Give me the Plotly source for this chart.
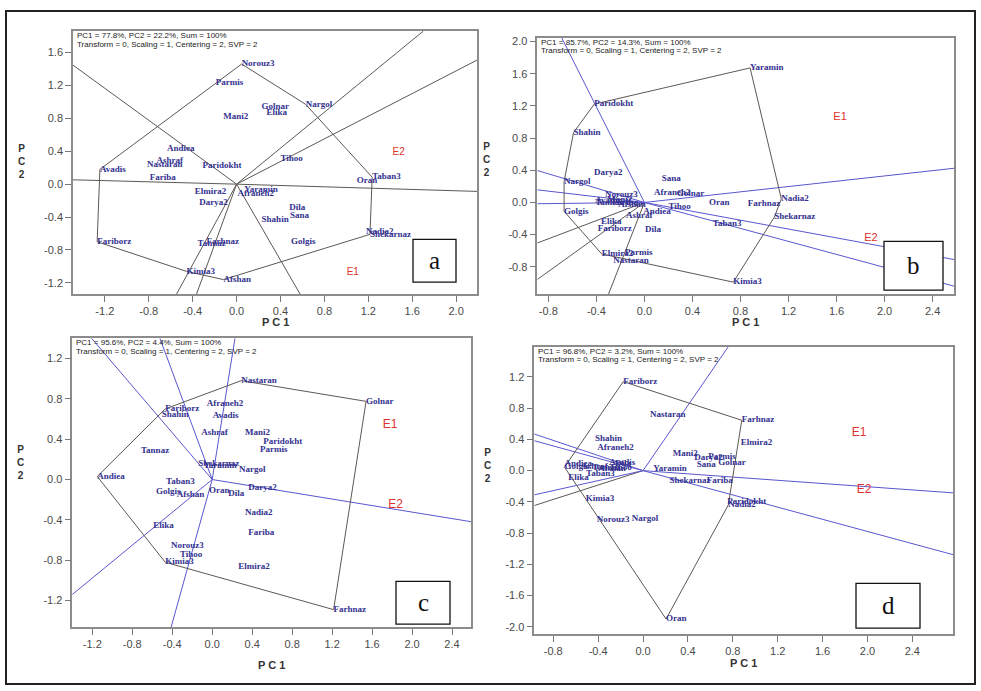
import plotly.graph_objects as go

W, H = 981, 691

# ------------------------------------------------------------------ data
# Panel a
a_names = ["Norouz3", "Parmis", "Golnar", "Elika", "Mani2", "Nargol", "Andiea", "Ashraf",
           "Nastaran", "Avadis", "Fariba", "Paridokht", "Tihoo", "Elmira2", "Darya2",
           "Yaramin", "Afraneh2", "Dila", "Sana", "Shahin", "Fariborz", "Farhnaz", "Tannaz",
           "Golgis", "Kimia3", "Afshan", "Nadia2", "Shekarnaz", "Oran", "Taban3"]
a_x = [0.046, -0.19, 0.228, 0.273, -0.122, 0.63, -0.633, -0.729, -0.815, -1.245, -0.79, -0.31,
       0.40, -0.38, -0.34, 0.069, 0.009, 0.48, 0.486, 0.228, -1.27, -0.273, -0.355, 0.495,
       -0.456, -0.12, 1.18, 1.215, 1.094, 1.235]
a_y = [1.46, 1.236, 0.938, 0.873, 0.817, 0.97, 0.433, 0.283, 0.235, 0.18, 0.081, 0.223, 0.303,
       -0.088, -0.222, -0.068, -0.117, -0.283, -0.39, -0.432, -0.70, -0.70, -0.73, -0.703,
       -1.06, -1.16, -0.573, -0.61, 0.041, 0.085]
a_hull = ["Norouz3", "Nargol", "Taban3", "Shekarnaz", "Afshan", "Kimia3", "Fariborz", "Avadis", "Norouz3"]
a_env = ["E1", "E2"]
a_env_x = [1.003, 1.42]
a_env_y = [-1.07, 0.39]
a_grey_x = [-1.49, -1.49, 2.19, 1.70, 2.19, 0.579, -0.547, -0.365]
a_grey_y = [1.447, 0.053, -0.088, 1.86, 1.508, -1.337, -1.337, -1.337]
a_blue_x = []
a_blue_y = []
a_stats = ["PC1 = 77.8%, PC2 = 22.2%, Sum = 100%", "Transform = 0, Scaling = 1, Centering = 2, SVP = 2"]
a_xticks = [-1.2, -0.8, -0.4, 0.0, 0.4, 0.8, 1.2, 1.6, 2.0]
a_yticks = [-1.2, -0.8, -0.4, 0.0, 0.4, 0.8, 1.2, 1.6]

# Panel b
b_names = ["Yaramin", "Paridokht", "Shahin", "Darya2", "Nargol", "Sana", "Afraneh2", "Golnar",
           "Norouz3", "Avadis", "Tannaz", "Mani2", "Fariba", "Afshan", "Golgis", "Ashraf",
           "Andiea", "Tihoo", "Elika", "Fariborz", "Dila", "Parmis", "Elmira2", "Nastaran",
           "Kimia3", "Oran", "Farhnaz", "Nadia2", "Shekarnaz", "Taban3"]
b_x = [0.88, -0.417, -0.59, -0.42, -0.669, 0.144, 0.08, 0.269, -0.328, -0.41, -0.41, -0.31,
       -0.27, -0.217, -0.669, -0.153, -0.009, 0.2, -0.361, -0.389, 0.005, -0.162, -0.356,
       -0.259, 0.74, 0.538, 0.86, 1.14, 1.082, 0.569]
b_y = [1.673, 1.223, 0.87, 0.372, 0.26, 0.289, 0.115, 0.103, 0.095, 0.021, -0.008, 0.028,
       0.0, -0.03, -0.11, -0.161, -0.112, -0.058, -0.244, -0.326, -0.338, -0.62, -0.64,
       -0.731, -0.991, -0.008, -0.016, 0.045, -0.182, -0.269]
b_hull = ["Yaramin", "Paridokht", "Shahin", "Nargol", "Golgis", "Elmira2", "Kimia3", "Shekarnaz", "Nadia2", "Yaramin"]
b_env = ["E1", "E2"]
b_env_x = [1.573, 1.83]
b_env_y = [1.057, -0.45]
b_grey_x = [-0.892, -0.892, -0.30]
b_grey_y = [-0.504, -0.958, -1.144]
b_blue_x = [-0.689, -0.892, -0.892, -0.892, 2.578, 2.578, 2.578]
b_blue_y = [2.048, 0.397, 0.157, -0.016, 0.425, -0.71, -1.041]
b_stats = ["PC1 = 85.7%, PC2 = 14.3%, Sum = 100%", "Transform = 0, Scaling = 1, Centering = 2, SVP = 2"]
b_xticks = [-0.8, -0.4, 0.0, 0.4, 0.8, 1.2, 1.6, 2.0, 2.4]
b_yticks = [-0.8, -0.4, 0.0, 0.4, 0.8, 1.2, 1.6, 2.0]

# Panel c
c_names = ["Nastaran", "Golnar", "Fariborz", "Shahin", "Afraneh2", "Avadis", "Ashraf", "Mani2",
           "Paridokht", "Parmis", "Tannaz", "Shekarnaz", "Yaramin", "Nargol", "Andiea", "Taban3",
           "Golgis", "Afshan", "Oran", "Dila", "Darya2", "Nadia2", "Fariba", "Elika", "Norouz3",
           "Tihoo", "Kimia3", "Elmira2", "Farhnaz"]
c_x = [0.29, 1.54, -0.47, -0.505, -0.055, 0.005, -0.109, 0.328, 0.512, 0.478, -0.713, -0.139,
       -0.089, 0.268, -1.15, -0.462, -0.563, -0.355, -0.032, 0.161, 0.361, 0.328, 0.361, -0.59,
       -0.412, -0.322, -0.47, 0.261, 1.215]
c_y = [0.98, 0.775, 0.70, 0.647, 0.752, 0.63, 0.459, 0.459, 0.37, 0.30, 0.284, 0.158, 0.136,
       0.10, 0.03, -0.02, -0.126, -0.15, -0.112, -0.138, -0.079, -0.332, -0.524, -0.462, -0.656,
       -0.745, -0.82, -0.864, -1.29]
c_hull = ["Nastaran", "Golnar", "Farhnaz", "Kimia3", "Andiea", "Fariborz", "Nastaran"]
c_env = ["E1", "E2"]
c_env_x = [1.707, 1.763]
c_env_y = [0.538, -0.25]
c_grey_x = []
c_grey_y = []
c_blue_x = [-1.207, -0.523, 0.228, -0.412, 2.59, -1.40]
c_blue_y = [1.40, 1.40, 1.40, -1.467, -0.418, -1.14]
c_stats = ["PC1 = 95.6%, PC2 = 4.4%, Sum = 100%", "Transform = 0, Scaling = 1, Centering = 2, SVP = 2"]
c_xticks = [-1.2, -0.8, -0.4, 0.0, 0.4, 0.8, 1.2, 1.6, 2.0, 2.4]
c_yticks = [-1.2, -0.8, -0.4, 0.0, 0.4, 0.8, 1.2]

# Panel d
d_names = ["Fariborz", "Nastaran", "Farhnaz", "Shahin", "Afraneh2", "Elmira2", "Mani2", "Darya2",
           "Parmis", "Sana", "Golnar", "Andiea", "Avadis", "Dila", "Golgis", "Ashraf", "Tannaz",
           "Afshan", "Tihoo", "Taban3", "Elika", "Yaramin", "Shekarnaz", "Fariba", "Kimia3",
           "Paridokht", "Nadia2", "Norouz3", "Nargol", "Oran"]
d_x = [-0.176, 0.062, 0.88, -0.428, -0.407, 0.871, 0.265, 0.457, 0.582, 0.479, 0.671, -0.70,
       -0.30, -0.25, -0.70, -0.55, -0.45, -0.40, -0.30, -0.508, -0.666, 0.092, 0.235, 0.567,
       -0.511, 0.751, 0.76, -0.413, -0.10, 0.205]
d_y = [1.14, 0.715, 0.645, 0.405, 0.298, 0.354, 0.213, 0.162, 0.179, 0.077, 0.106, 0.093,
       0.10, 0.085, 0.045, 0.045, 0.04, 0.02, 0.04, -0.034, -0.085, 0.03, -0.136, -0.136,
       -0.362, -0.405, -0.44, -0.63, -0.617, -1.90]
d_hull = ["Fariborz", "Farhnaz", "Nadia2", "Oran", "Golgis", "Fariborz"]
d_env = ["E1", "E2"]
d_env_x = [1.86, 1.905]
d_env_y = [0.476, -0.243]
d_grey_x = [-0.969]
d_grey_y = [-0.447]
d_blue_x = [0.76, -0.969, -0.969, -0.969, 2.765, 2.765]
d_blue_y = [1.587, 0.469, 0.383, -0.31, -0.285, -1.077]
d_stats = ["PC1 = 96.8%, PC2 = 3.2%, Sum = 100%", "Transform = 0, Scaling = 1, Centering = 2, SVP = 2"]
d_xticks = [-0.8, -0.4, 0.0, 0.4, 0.8, 1.2, 1.6, 2.0, 2.4]
d_yticks = [-2.0, -1.6, -1.2, -0.8, -0.4, 0.0, 0.4, 0.8, 1.2]

panel_letters = ["a", "b", "c", "d"]

# ------------------------------------------------------------------ layout helpers
GENO_COLOR = "#34318f"
ENV_COLOR = "#e0322e"
GREY_LINE = "#5d5853"
BLUE_LINE = "#5a56cf"
FRAME = "#8c8c8c"

panels = [
    dict(names=a_names, x=a_x, y=a_y, hull=a_hull, env=a_env, ex=a_env_x, ey=a_env_y,
         gx=a_grey_x, gy=a_grey_y, bx=a_blue_x, by=a_blue_y, stats=a_stats,
         xt=a_xticks, yt=a_yticks, box=(73, 29, 477, 293), xr=[-1.49, 2.19], yr=[-1.337, 1.863],
         envsize=10, lbox=(413, 238, 456, 281), pc1=(275, 321), pc2=(21, 160)),
    dict(names=b_names, x=b_x, y=b_y, hull=b_hull, env=b_env, ex=b_env_x, ey=b_env_y,
         gx=b_grey_x, gy=b_grey_y, bx=b_blue_x, by=b_blue_y, stats=b_stats,
         xt=b_xticks, yt=b_yticks, box=(537.3, 35.7, 954, 293.3), xr=[-0.892, 2.578], yr=[-1.144, 2.05],
         envsize=11, lbox=(884, 240, 943, 289), pc1=(745, 321), pc2=(486, 158)),
    dict(names=c_names, x=c_x, y=c_y, hull=c_hull, env=c_env, ex=c_env_x, ey=c_env_y,
         gx=c_grey_x, gy=c_grey_y, bx=c_blue_x, by=c_blue_y, stats=c_stats,
         xt=c_xticks, yt=c_yticks, box=(72.3, 337.3, 471, 627), xr=[-1.40, 2.59], yr=[-1.464, 1.40],
         envsize=12, lbox=(396, 581, 450, 624), pc1=(271, 665), pc2=(20, 462)),
    dict(names=d_names, x=d_x, y=d_y, hull=d_hull, env=d_env, ex=d_env_x, ey=d_env_y,
         gx=d_grey_x, gy=d_grey_y, bx=d_blue_x, by=d_blue_y, stats=d_stats,
         xt=d_xticks, yt=d_yticks, box=(534.3, 345.7, 953.3, 634), xr=[-0.969, 2.765], yr=[-2.094, 1.587],
         envsize=12, lbox=(856, 583, 920, 628), pc1=(743, 663), pc2=(487, 465)),
]


def px(v):
    return v / W


def py(v):
    return 1 - v / H


def fmt(v):
    return f"{v + 0.0:.1f}"


def rays(ex, ey):
    xs, ys = [], []
    for a, b in zip(ex, ey):
        xs += [0, a, None]
        ys += [0, b, None]
    return xs, ys


fig = go.Figure()
annotations = []
shapes = []

for i, p in enumerate(panels):
    k = "" if i == 0 else str(i + 1)
    xa, ya = "x" + k, "y" + k
    l, t, r, b = p["box"]
    fig.layout["xaxis" + k] = dict(
        domain=[px(l), px(r)], anchor=ya, range=p["xr"], showgrid=False, zeroline=False,
        showline=True, mirror=True, linecolor=FRAME, linewidth=1.5, ticks="outside",
        ticklen=6, tickwidth=1, tickcolor="#777", tickmode="array", tickvals=p["xt"],
        ticktext=[fmt(v) for v in p["xt"]],
        tickfont=dict(family="Liberation Sans, Arial", size=11, color="#4a4a4a"), fixedrange=True)
    fig.layout["yaxis" + k] = dict(
        domain=[py(b), py(t)], anchor=xa, range=p["yr"], showgrid=False, zeroline=False,
        showline=True, mirror=True, linecolor=FRAME, linewidth=1.5, ticks="outside",
        ticklen=6, tickwidth=1, tickcolor="#777", tickmode="array", tickvals=p["yt"],
        ticktext=[fmt(v) for v in p["yt"]],
        tickfont=dict(family="Liberation Sans, Arial", size=11, color="#4a4a4a"), fixedrange=True)

    # rays
    if p["gx"]:
        rx, ry = rays(p["gx"], p["gy"])
        fig.add_trace(go.Scatter(x=rx, y=ry, mode="lines", xaxis=xa, yaxis=ya,
                                 line=dict(color=GREY_LINE, width=1), hoverinfo="skip"))
    if p["bx"]:
        rx, ry = rays(p["bx"], p["by"])
        fig.add_trace(go.Scatter(x=rx, y=ry, mode="lines", xaxis=xa, yaxis=ya,
                                 line=dict(color=BLUE_LINE, width=1), hoverinfo="skip"))
    # polygon
    idx = {n: j for j, n in enumerate(p["names"])}
    hx = [p["x"][idx[n]] for n in p["hull"]]
    hy = [p["y"][idx[n]] for n in p["hull"]]
    fig.add_trace(go.Scatter(x=hx, y=hy, mode="lines", xaxis=xa, yaxis=ya,
                             line=dict(color=GREY_LINE, width=1), hoverinfo="skip"))
    # genotype labels
    fig.add_trace(go.Scatter(x=p["x"], y=p["y"], text=p["names"], mode="text",
                             textposition="middle right", xaxis=xa, yaxis=ya,
                             textfont=dict(family="Liberation Serif, Times New Roman", size=9,
                                           color=GENO_COLOR, weight="bold"),
                             hoverinfo="skip", cliponaxis=False))
    # environment labels
    fig.add_trace(go.Scatter(x=p["ex"], y=p["ey"], text=p["env"], mode="text",
                             textposition="middle right", xaxis=xa, yaxis=ya,
                             textfont=dict(family="Liberation Sans, Arial", size=p["envsize"],
                                           color=ENV_COLOR),
                             hoverinfo="skip"))

    # stats text
    for j, s in enumerate(p["stats"]):
        annotations.append(dict(x=px(l + 1.5), y=py(t + 4.5 + 8.7 * j), xref="paper", yref="paper",
                                text=s, showarrow=False, xanchor="left", yanchor="middle",
                                font=dict(family="Liberation Sans, Arial", size=8, color="#222")))
    # axis titles
    annotations.append(dict(x=px(p["pc1"][0]), y=py(p["pc1"][1]), xref="paper", yref="paper",
                            text="<b>P C 1</b>", showarrow=False, xanchor="center", yanchor="middle",
                            font=dict(family="Liberation Sans, Arial", size=11, color="#333")))
    annotations.append(dict(x=px(p["pc2"][0]), y=py(p["pc2"][1]), xref="paper", yref="paper",
                            text="<b>P</b><br><b>C</b><br><b>2</b>", showarrow=False,
                            xanchor="center", yanchor="middle",
                            font=dict(family="Liberation Sans, Arial", size=10, color="#333")))
    # letter box
    bl, bt, br, bb = p["lbox"]
    shapes.append(dict(type="rect", xref="paper", yref="paper", x0=px(bl), x1=px(br),
                       y0=py(bb), y1=py(bt), line=dict(color="#111", width=1.3),
                       fillcolor="white", layer="above"))
    annotations.append(dict(x=px((bl + br) / 2), y=py((bt + bb) / 2), xref="paper", yref="paper",
                            text=panel_letters[i], showarrow=False, xanchor="center",
                            yanchor="middle",
                            font=dict(family="Liberation Serif, Times New Roman", size=25,
                                      color="#111")))

# outer frame
shapes.append(dict(type="rect", xref="paper", yref="paper", x0=px(6), x1=px(975),
                   y0=py(684), y1=py(9), line=dict(color="#222", width=2), layer="above"))

fig.update_layout(width=W, height=H, margin=dict(l=0, r=0, t=0, b=0),
                  paper_bgcolor="white", plot_bgcolor="white", showlegend=False,
                  annotations=annotations, shapes=shapes)

fig.write_html("out.html", post_script="document.body.style.margin='0px';",
               config={"displayModeBar": False})
